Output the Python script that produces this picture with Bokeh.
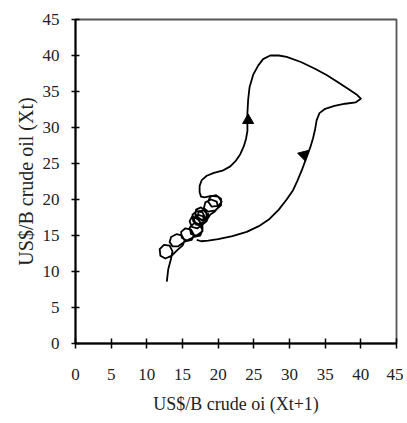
from bokeh.plotting import figure
from bokeh.models import Range1d, FixedTicker
from bokeh.embed import file_html
from bokeh.resources import INLINE
import numpy as np

# traced path (Xt+1, Xt): tail, chain of small loops, then the large clockwise loop
path_x = [12.8, 13.0, 13.4, 13.6, 13.2, 12.4, 11.8, 11.9, 12.6, 13.5, 14.3,
          15.0, 15.3, 14.9, 14.2, 13.4, 13.2, 13.6, 14.4, 15.4,
          16.3, 16.6, 16.2, 15.4, 14.8, 14.9, 15.6, 16.6,
          17.5, 17.8, 17.4, 16.6, 16.0, 16.2, 17.0, 17.8,
          17.8, 17.2, 16.4, 16.0, 16.3, 17.1, 17.9,
          18.2, 17.8, 17.0, 16.4, 16.5, 17.2, 18.0, 18.4,
          18.3, 17.6, 16.9, 16.8, 17.4, 18.2, 18.6,
          18.4, 17.8, 17.1, 16.6, 16.9, 17.6, 18.3,
          18.6, 18.0, 17.3, 17.1, 17.7, 18.5, 18.9,
          19.5, 20.0, 19.8, 19.0, 18.2, 18.0, 18.6, 19.6,
          20.4, 20.4, 19.7, 18.9, 18.6, 19.1, 20.0, 20.5, 20.0, 19.0,
          18.1, 17.6, 17.4, 17.4, 17.7, 18.4, 19.4, 20.6, 21.7, 22.5, 23.1, 23.6, 23.9, 24.1, 24.1, 24.1,
          24.2, 24.4, 24.9, 25.6, 26.3, 27.3, 28.5, 29.6, 31.6, 33.5, 35.2, 36.8, 38.3, 39.5, 40.0,
          39.3, 37.8, 36.3, 35.0, 34.2, 33.8, 33.6, 33.3, 32.9, 32.3, 31.7, 31.1, 30.5, 29.6, 28.5,
          27.2, 25.7, 24.0, 22.0, 20.0, 18.6, 17.6, 17.0]
path_y = [8.6, 10.3, 11.8, 12.8, 13.6, 13.7, 13.1, 12.2, 11.8, 12.2, 13.0,
          13.6, 14.3, 15.0, 15.2, 14.8, 14.1, 13.5, 13.5, 14.2,
          14.4, 15.1, 15.8, 16.0, 15.5, 14.7, 14.3, 14.8,
          15.0, 15.8, 16.5, 16.7, 16.1, 15.2, 15.0, 15.6,
          16.4, 17.2, 17.7, 17.0, 16.2, 16.0, 16.6,
          17.4, 18.2, 18.4, 17.9, 17.0, 16.6, 16.9, 17.6,
          18.4, 18.9, 18.6, 17.8, 17.2, 17.3, 18.0,
          17.0, 17.7, 17.9, 17.3, 16.5, 16.4, 16.9,
          17.8, 18.5, 18.4, 17.6, 17.1, 17.3, 17.9,
          18.3, 18.9, 19.7, 20.0, 19.6, 18.8, 18.3, 18.5,
          19.2, 20.1, 20.6, 20.4, 19.7, 19.0, 19.1, 19.7, 20.4, 20.5,
          20.3, 20.4, 21.0, 21.9, 22.7, 23.3, 23.7, 24.0, 24.6, 25.4, 26.3, 27.4, 28.4, 29.5, 30.5, 32.0,
          33.8, 35.6, 37.3, 38.6, 39.5, 40.0, 40.0, 39.8, 39.1, 38.2, 37.3, 36.3, 35.3, 34.5, 34.0,
          33.5, 33.3, 33.0, 32.6, 32.0, 31.0, 29.8, 28.5, 27.2, 25.6, 24.0, 22.6, 21.3, 20.0, 18.6,
          17.3, 16.3, 15.5, 14.9, 14.5, 14.3, 14.2, 14.4]

arrow_x = [24.2, 32.0]
arrow_y = [31.0, 26.2]
arrow_angle = [0.0, np.pi + 0.25]

ticks = [0, 5, 10, 15, 20, 25, 30, 35, 40, 45]
x_label = "US$/B crude oi (Xt+1)"
y_label = "US$/B crude oil (Xt)"

p = figure(width=403, height=423, output_backend="svg", toolbar_location=None,
           x_range=Range1d(0, 45), y_range=Range1d(0, 45),
           min_border_left=75, min_border_right=7, min_border_top=19, min_border_bottom=80)
p.background_fill_color = "white"
p.border_fill_color = "white"
p.outline_line_color = "#555555"
p.outline_line_width = 1.8
p.grid.visible = False

p.line(path_x, path_y, line_color="black", line_width=1.8, line_join="round")
p.scatter(arrow_x, arrow_y, marker="triangle", size=11, angle=arrow_angle,
          fill_color="black", line_color="black")

font = "Liberation Serif"
for ax in (p.xaxis[0], p.yaxis[0]):
    ax.ticker = FixedTicker(ticks=ticks)
    ax.minor_tick_line_color = None
    ax.axis_line_color = "black"
    ax.axis_line_width = 2
    ax.major_tick_line_color = "black"
    ax.major_tick_line_width = 1.5
    ax.major_label_text_font = font
    ax.major_label_text_font_size = "17px"
    ax.major_label_text_color = "#222222"
    ax.axis_label_text_font = font
    ax.axis_label_text_font_style = "normal"
    ax.axis_label_text_color = "#222222"

p.xaxis.axis_label = x_label
p.yaxis.axis_label = y_label
p.xaxis.axis_label_text_font_size = "18px"
p.yaxis.axis_label_text_font_size = "20px"
p.xaxis.major_tick_in = 5
p.xaxis.major_tick_out = 5
p.yaxis.major_tick_in = 4
p.yaxis.major_tick_out = 4
p.xaxis.major_label_standoff = 20
p.yaxis.major_label_standoff = 12
p.xaxis.axis_label_standoff = 11
p.yaxis.axis_label_standoff = 3

open("out.html", "w").write(file_html(p, INLINE))
